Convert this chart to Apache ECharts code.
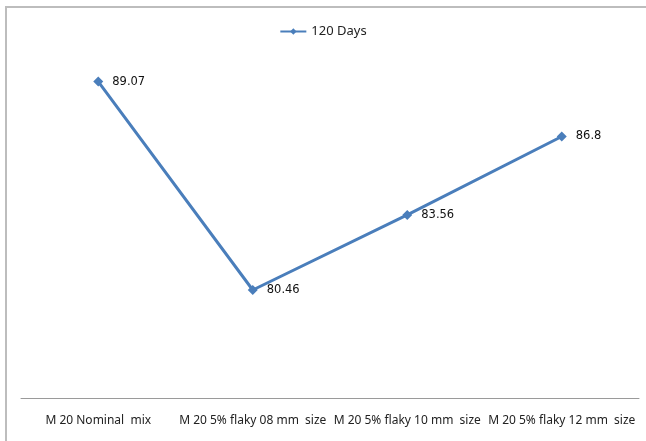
<!DOCTYPE html>
<html>
<head>
<meta charset="utf-8">
<script src="https://cdn.jsdelivr.net/npm/echarts@6/dist/echarts.min.js"></script>
<style>
  html, body { margin: 0; padding: 0; background: #fff; overflow: hidden; }
  #chart { width: 646px; height: 441px; }
</style>
</head>
<body>
<div id="chart"></div>
<script>
// Mix designations along the x axis
const categories = [
  'M 20 Nominal  mix',
  'M 20 5% flaky 08 mm  size',
  'M 20 5% flaky 10 mm  size',
  'M 20 5% flaky 12 mm  size'
];
// Strength values at 120 days
const seriesName = '120 Days';
const values120 = [89.07, 80.46, 83.56, 86.8];

const chart = echarts.init(document.getElementById('chart'), null, { renderer: 'canvas' });

chart.setOption({
  animation: false,
  backgroundColor: '#ffffff',
  // Chart frame: top and left edges as thin filled bars
  graphic: [
    {
      type: 'rect',
      silent: true,
      shape: { x: 5, y: 6, width: 641, height: 2 },
      style: { fill: '#bdbdbd' }
    },
    {
      type: 'rect',
      silent: true,
      shape: { x: 5, y: 6, width: 2, height: 435 },
      style: { fill: '#bdbdbd' }
    }
  ],
  legend: {
    top: 20,
    left: 'center',
    itemWidth: 26,
    itemHeight: 8,
    itemGap: 3,
    textStyle: { fontFamily: 'Noto Sans', fontSize: 13, color: '#222' },
    data: [seriesName]
  },
  grid: { left: 21, right: 7, top: 59, bottom: 43 },
  xAxis: {
    type: 'category',
    data: categories,
    boundaryGap: true,
    axisLine: { show: true, lineStyle: { color: '#9a9a9a', width: 1 } },
    axisTick: { show: false },
    axisLabel: {
      interval: 0,
      margin: 17,
      fontFamily: 'Noto Sans',
      fontSize: 12,
      color: '#222'
    }
  },
  yAxis: {
    type: 'value',
    min: 76,
    max: 90,
    show: false,
    splitLine: { show: false }
  },
  series: [{
    name: seriesName,
    type: 'line',
    data: values120,
    symbol: 'diamond',
    symbolSize: 10,
    lineStyle: { color: '#4a7ebb', width: 3 },
    itemStyle: { color: '#4a7ebb' },
    label: {
      show: true,
      position: 'right',
      distance: 9,
      fontFamily: 'DejaVu Sans',
      fontSize: 11.5,
      color: '#111'
    }
  }]
});
</script>
</body>
</html>
